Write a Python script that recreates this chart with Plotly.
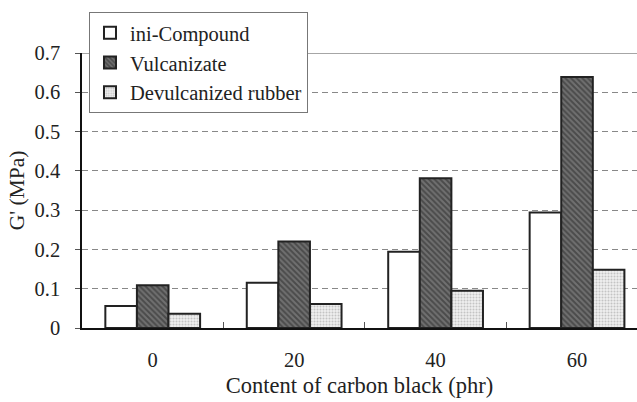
import plotly.graph_objects as go

categories = ["0", "20", "40", "60"]
ini_compound = [0.056, 0.115, 0.194, 0.294]
vulcanizate = [0.109, 0.220, 0.381, 0.639]
devulcanized = [0.036, 0.061, 0.095, 0.148]
y_ticks = [0, 0.1, 0.2, 0.3, 0.4, 0.5, 0.6, 0.7]
y_tick_labels = ["0", "0.1", "0.2", "0.3", "0.4", "0.5", "0.6", "0.7"]

FONT = "Liberation Serif"
line = dict(color="#222222", width=2)

fig = go.Figure()
fig.add_trace(go.Bar(
    x=categories, y=ini_compound, name="ini-Compound",
    marker=dict(color="white", line=line),
))
fig.add_trace(go.Bar(
    x=categories, y=vulcanizate, name="Vulcanizate",
    marker=dict(color="#555555", line=line,
                pattern=dict(shape="\\", fgcolor="#262626", bgcolor="#707070",
                             size=4, solidity=0.5)),
))
fig.add_trace(go.Bar(
    x=categories, y=devulcanized, name="Devulcanized rubber",
    marker=dict(color="#dddddd", line=line,
                pattern=dict(shape=".", fgcolor="#9a9a9a", bgcolor="#eeeeee",
                             size=3, solidity=0.35)),
))

fig.update_layout(
    width=637, height=402,
    margin=dict(l=82, r=0, t=53, b=74),
    paper_bgcolor="white", plot_bgcolor="white",
    font=dict(family=FONT, size=20, color="#222222"),
    barmode="group", bargap=0.33, bargroupgap=0,
    showlegend=True,
    legend=dict(
        x=0.0126, y=1.149, xanchor="left", yanchor="top",
        bgcolor="white", bordercolor="#777777", borderwidth=1,
        font=dict(family=FONT, size=20.5, color="#222222"),
        tracegroupgap=0, itemwidth=30,
    ),
    xaxis=dict(
        type="category", range=[-0.5, 3.424],
        showline=True, linecolor="#111111", linewidth=1.5,
        ticks="inside", ticklen=6, tickcolor="#555555", tickwidth=1,
        tickson="boundaries", showgrid=False,
        ticklabelstandoff=13,
        tickfont=dict(family=FONT, size=20.5),
        title=dict(text="Content of carbon black (phr)",
                   font=dict(family=FONT, size=22.5), standoff=7),
    ),
    yaxis=dict(
        range=[0, 0.7], tickvals=y_ticks, ticktext=y_tick_labels,
        showline=True, linecolor="#111111", linewidth=1.5,
        ticks="outside", ticklen=5, tickcolor="#555555",
        ticklabelstandoff=11,
        tickfont=dict(family=FONT, size=20.5),
        showgrid=True, gridcolor="#888888", gridwidth=1, griddash="6px,4px",
        zeroline=False,
        title=dict(text="G' (MPa)", font=dict(family=FONT, size=21.5), standoff=4),
    ),
)
fig.add_shape(type="line", xref="paper", yref="y", x0=0, x1=1, y0=0.7, y1=0.7,
              line=dict(color="#888888", width=1.5), layer="below")

fig.write_html("out.html")
